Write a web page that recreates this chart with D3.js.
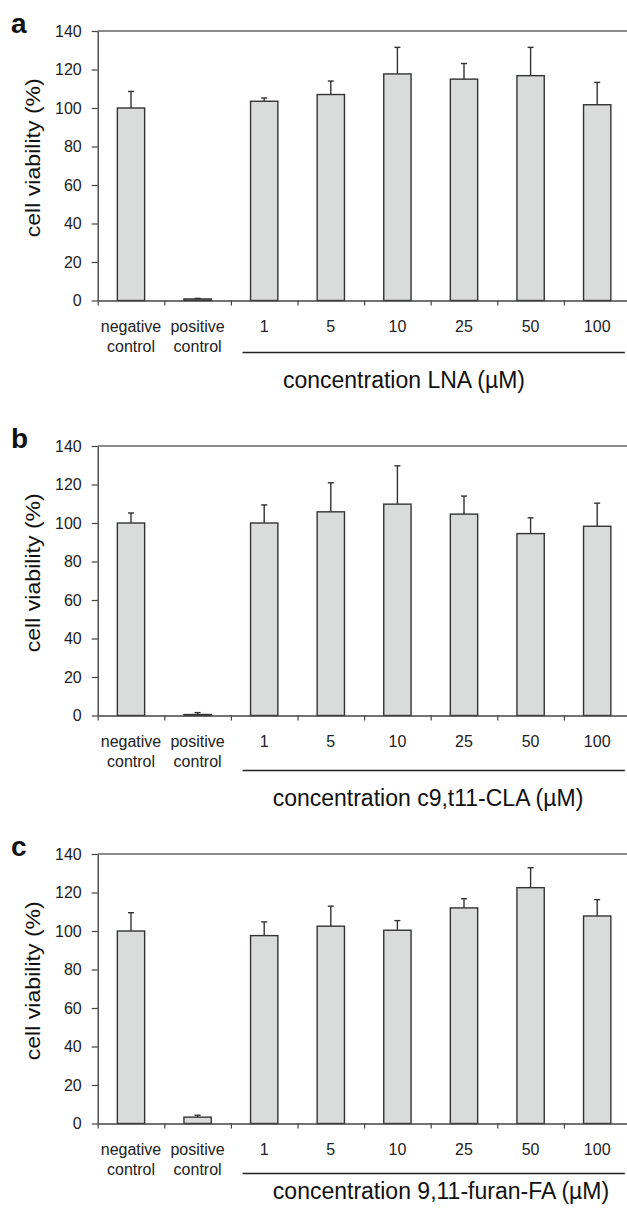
<!DOCTYPE html>
<html lang="en">
<head>
<meta charset="utf-8"/>
<title>cell viability</title>
<style>
  body { margin: 0; background: #fff; }
  svg { display: block; font-family: "Liberation Sans", Arial, Helvetica, sans-serif; }
</style>
</head>
<body>
<div id="chart"></div>
<script src="https://d3js.org/d3.v7.min.js"></script>
<script>
  // categories on the x axis (two-line labels for the controls)
  const categories = ["negative control", "positive control", "1", "5", "10", "25", "50", "100"];
  const catLabels = [["negative", "control"], ["positive", "control"], ["1"], ["5"], ["10"], ["25"], ["50"], ["100"]];
  const yTicks = [0, 20, 40, 60, 80, 100, 120, 140];

  // panel a: LNA
  const lnaMean = [100, 0.8, 103.5, 107, 117.7, 115, 116.8, 101.7];
  const lnaErr = [8.6, 0.3, 1.7, 7, 13.8, 8.1, 14.7, 11.6];
  // panel b: c9,t11-CLA
  const claMean = [100, 0.5, 100, 105.8, 109.8, 104.6, 94.5, 98.3];
  const claErr = [5.2, 1.0, 9.4, 15.1, 19.9, 9.4, 8.2, 12];
  // panel c: 9,11-furan-FA
  const furanMean = [100, 3.3, 97.6, 102.5, 100.4, 112, 122.5, 107.8];
  const furanErr = [9.5, 1.0, 7.1, 10.4, 5, 4.8, 10.4, 8.5];

  const letters = ["a", "b", "c"];
  const xTitles = ["concentration LNA (µM)", "concentration c9,t11-CLA (µM)", "concentration 9,11-furan-FA (µM)"];
  const means = [lnaMean, claMean, furanMean];
  const errs = [lnaErr, claErr, furanErr];

  // layout per panel
  const layout = [
    { top: 31, lineDy: 52, titleDy: 87, titleX: 404 },
    { top: 446, lineDy: 55, titleDy: 90, titleX: 428 },
    { top: 854, lineDy: 50, titleDy: 75, titleX: 441 }
  ];

  const width = 627, height = 1211;
  const left = 97.7, step = 66.6, plotH = 269.5;

  const svg = d3.select("#chart").append("svg")
      .attr("width", width)
      .attr("height", height);

  const x = d3.scaleBand()
      .domain(categories)
      .range([left, left + step * categories.length])
      .paddingInner(0.59)
      .paddingOuter(0.295);
  const xb = d3.scaleLinear().domain([0, categories.length]).range(x.range());

  layout.forEach((L, i) => {
    const top = L.top, bottom = top + plotH;
    const y = d3.scaleLinear().domain([0, 140]).range([bottom, top]);
    const g = svg.append("g");

    // top frame line
    g.append("line")
        .attr("x1", left).attr("x2", x.range()[1])
        .attr("y1", top).attr("y2", top)
        .attr("stroke", "#666").attr("stroke-width", 1.4);

    // bars
    g.selectAll("rect.bar")
      .data(categories)
      .join("rect")
        .attr("class", "bar")
        .attr("x", d => x(d))
        .attr("width", x.bandwidth())
        .attr("y", (d, j) => y(means[i][j]))
        .attr("height", (d, j) => y(0) - y(means[i][j]))
        .attr("fill", "#dadcdb")
        .attr("stroke", "#333")
        .attr("stroke-width", 1.4);

    // error bars (upper only)
    const eb = g.selectAll("g.err")
      .data(categories)
      .join("g")
        .attr("class", "err")
        .attr("stroke", "#333")
        .attr("stroke-width", 1.4);
    eb.append("line")
        .attr("x1", d => x(d) + x.bandwidth() / 2)
        .attr("x2", d => x(d) + x.bandwidth() / 2)
        .attr("y1", (d, j) => y(means[i][j]))
        .attr("y2", (d, j) => y(means[i][j] + errs[i][j]));
    eb.append("line")
        .attr("x1", d => x(d) + x.bandwidth() / 2 - 3)
        .attr("x2", d => x(d) + x.bandwidth() / 2 + 3)
        .attr("y1", (d, j) => y(means[i][j] + errs[i][j]))
        .attr("y2", (d, j) => y(means[i][j] + errs[i][j]));

    // y axis
    const ya = g.append("g")
        .attr("transform", `translate(${left},0)`)
        .call(d3.axisLeft(y).tickValues(yTicks).tickSize(6).tickPadding(10).tickSizeOuter(0));
    ya.select(".domain").attr("stroke", "#444").attr("stroke-width", 1.4);
    ya.selectAll(".tick line").attr("stroke", "#444").attr("stroke-width", 1.2);
    ya.selectAll(".tick text").attr("font-size", 16).attr("fill", "#222")
        .attr("font-family", "'Liberation Sans', Arial, sans-serif");

    // x axis with ticks at category boundaries
    const xa = g.append("g")
        .attr("transform", `translate(0,${bottom})`)
        .call(d3.axisBottom(xb).ticks(categories.length).tickSize(5).tickSizeOuter(0).tickFormat(""));
    xa.select(".domain").attr("stroke", "#444").attr("stroke-width", 1.4);
    xa.selectAll(".tick line").attr("stroke", "#444").attr("stroke-width", 1.2);

    // category labels
    const lab = g.selectAll("text.cat")
      .data(catLabels)
      .join("text")
        .attr("class", "cat")
        .attr("text-anchor", "middle")
        .attr("font-size", 16)
        .attr("fill", "#222");
    lab.selectAll("tspan")
      .data((d, j) => d.map(t => ({ t, cx: x(categories[j]) + x.bandwidth() / 2 })))
      .join("tspan")
        .attr("x", d => d.cx)
        .attr("y", (d, k) => bottom + 31.5 + k * 19.5)
        .text(d => d.t);

    // underline for concentration group
    g.append("line")
        .attr("x1", x("1") - 8)
        .attr("x2", x("100") + x.bandwidth() + 14)
        .attr("y1", bottom + L.lineDy).attr("y2", bottom + L.lineDy)
        .attr("stroke", "#222").attr("stroke-width", 1.6);

    // x title
    g.append("text")
        .attr("x", L.titleX)
        .attr("y", bottom + L.titleDy)
        .attr("text-anchor", "middle")
        .attr("font-size", 23)
        .attr("fill", "#111")
        .text(xTitles[i]);

    // y title
    g.append("text")
        .attr("transform", `translate(40,${(top + bottom) / 2 - 8}) rotate(-90) scale(1.1,1)`)
        .attr("text-anchor", "middle")
        .attr("font-size", 21)
        .attr("fill", "#111")
        .text("cell viability (%)");

    // panel letter
    g.append("text")
        .attr("x", 11)
        .attr("y", top + 2)
        .attr("font-size", 28)
        .attr("font-weight", "bold")
        .attr("fill", "#111")
        .text(letters[i]);
  });
</script>
</body>
</html>
